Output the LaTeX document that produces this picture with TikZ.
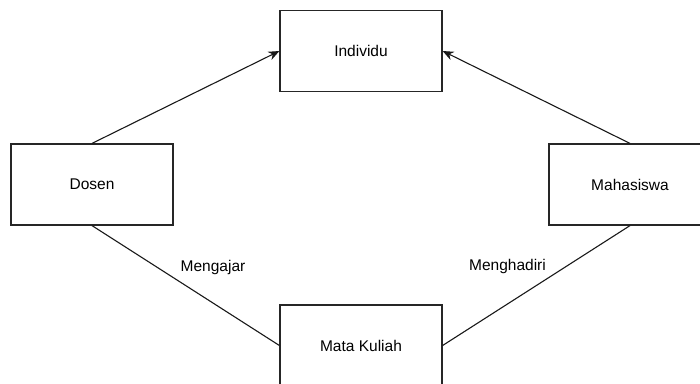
\documentclass[tikz,border=0pt]{standalone}
\usepackage{fontspec}
\setmainfont{Liberation Sans}
\usetikzlibrary{arrows.meta}
\begin{document}
\begin{tikzpicture}[x=1pt,y=-1pt,
  box/.style={draw=black!85,line width=1.2pt,fill=white,rectangle,minimum width=162pt,minimum height=81pt,inner sep=0pt,font=\fontsize{15.5}{18}\selectfont},
  lbl/.style={font=\fontsize{15.5}{18}\selectfont,inner sep=0pt},
  conn/.style={draw=black!90,line width=1.1pt},
  arr/.style={conn,-{Stealth[length=11pt,width=9pt]}}]
\useasboundingbox (0,0) rectangle (700,383);
\clip (0,0) rectangle (700,383);
\node[box] (ind) at (361,51) {Individu};
\node[box] (dos) at (92,184.5) {Dosen};
\node[box] (mhs) at (630,184.5) {Mahasiswa};
\node[box] (mk) at (361,345.5) {Mata Kuliah};
\draw[arr] (dos.north) -- (ind.west);
\draw[arr] (mhs.north) -- (ind.east);
\draw[conn] (dos.south) -- (mk.west);
\draw[conn] (mhs.south) -- (mk.east);
\node[lbl] (l1) at (213,267) {Mengajar};
\node[lbl] (l2) at (507.5,266) {Menghadiri};
\end{tikzpicture}
\end{document}
